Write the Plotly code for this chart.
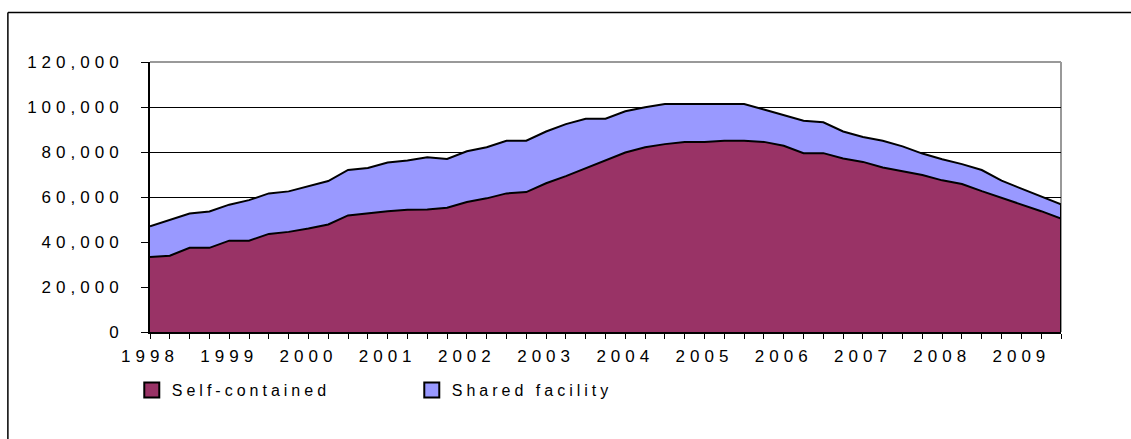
import plotly.graph_objects as go

# quarterly counts, 1998 Q1 .. 2009 Q3
years = list(range(1998, 2010))
quarters = [f"{y} Q{q}" for y in years for q in range(1, 5)][:47]
year_labels = [str(y) for y in years]

self_contained = [33300, 33900, 37400, 37400, 40600, 40600, 43600, 44500, 46000, 47800,
                  51800, 52800, 53700, 54300, 54500, 55200, 57800, 59400, 61600, 62200,
                  66100, 69300, 72800, 76200, 79800, 82100, 83500, 84400, 84500, 85000,
                  85000, 84500, 82800, 79500, 79500, 77100, 75600, 73100, 71600, 69800,
                  67400, 65800, 62600, 59700, 56700, 53700, 50400]
shared_facility = [13700, 15800, 15300, 16200, 16000, 18000, 18000, 18000, 18900, 19300,
                   20200, 20100, 21600, 21900, 23200, 21700, 22500, 22700, 23400, 22800,
                   23000, 23100, 22000, 18600, 18300, 17800, 17800, 16900, 16800, 16300,
                   16300, 14400, 13700, 14400, 13700, 12000, 11100, 11900, 10900, 9500,
                   9400, 8800, 9400, 7600, 7000, 6400, 6300]

MAROON = "#993366"
LILAC = "#9999FF"
FONT = "Liberation Sans, Arial, sans-serif"

fig = go.Figure()

fig.add_trace(go.Scatter(
    x=quarters, y=self_contained, stackgroup="one", mode="lines",
    line=dict(color="black", width=2), fillcolor=MAROON, showlegend=False,
))
fig.add_trace(go.Scatter(
    x=quarters, y=shared_facility, stackgroup="one", mode="lines",
    line=dict(color="black", width=2), fillcolor=LILAC, showlegend=False,
))
# closing edge of the stacked area on the right
fig.add_trace(go.Scatter(
    x=[quarters[-1], quarters[-1]], y=[0, self_contained[-1] + shared_facility[-1]],
    mode="lines", line=dict(color="black", width=2), showlegend=False, hoverinfo="skip",
))

# legend entries as square swatches
for name, col in [("Self-contained", MAROON), ("Shared facility", LILAC)]:
    fig.add_trace(go.Scatter(
        x=[None], y=[None], mode="markers", name=name,
        marker=dict(symbol="square", size=15, color=col, line=dict(color="black", width=2)),
    ))

ticktext = [year_labels[i // 4] if i % 4 == 0 else "" for i in range(len(quarters))]

fig.update_xaxes(
    type="category", range=[0, len(quarters) - 1],
    tickvals=quarters, ticktext=ticktext,
    showline=True, linecolor="black", linewidth=2,
    ticks="outside", ticklen=5, tickcolor="black", tickwidth=1,
    showgrid=False, tickangle=0, ticklabelstandoff=3,
    tickfont=dict(family=FONT, size=17, color="black"),
)
fig.update_yaxes(
    range=[0, 120000], dtick=20000, tickformat=",d",
    showline=True, linecolor="black", linewidth=2,
    ticks="outside", ticklen=7, tickcolor="black", tickwidth=1,
    showgrid=True, gridcolor="black", gridwidth=1, zeroline=False,
    ticklabelstandoff=14,
    tickfont=dict(family=FONT, size=17, color="black"),
)

fig.update_layout(
    width=1131, height=439,
    margin=dict(l=150, r=70, t=62, b=107),
    plot_bgcolor="white", paper_bgcolor="white",
    legend=dict(
        orientation="h", traceorder="normal",
        x=-0.02, xanchor="left", y=-0.215, yanchor="middle",
        entrywidth=235, entrywidthmode="pixels",
        font=dict(family=FONT, size=16, color="black"),
        bgcolor="rgba(0,0,0,0)",
    ),
    shapes=[
        # plot area frame (grey) on top and right
        dict(type="line", xref="paper", yref="paper", x0=0, x1=1, y0=1, y1=1,
             line=dict(color="#999999", width=2), layer="above"),
        dict(type="line", xref="paper", yref="paper", x0=1, x1=1, y0=0, y1=1,
             line=dict(color="#999999", width=2), layer="below"),
        # outer chart border
        dict(type="line", xref="paper", yref="paper", x0=-0.156, x1=1.08, y0=1.183, y1=1.183,
             line=dict(color="black", width=1.5)),
        dict(type="line", xref="paper", yref="paper", x0=-0.156, x1=-0.156, y0=-0.4, y1=1.183,
             line=dict(color="black", width=1.5)),
    ],
)

page_css = (
    "document.body.style.margin='0';"
    "var s=document.createElement('style');"
    "s.textContent='.xtick text,.ytick text{letter-spacing:5px}.legendtext{letter-spacing:4px}';"
    "document.head.appendChild(s);"
)
fig.write_html("out.html", post_script=page_css, config={"displayModeBar": False})
